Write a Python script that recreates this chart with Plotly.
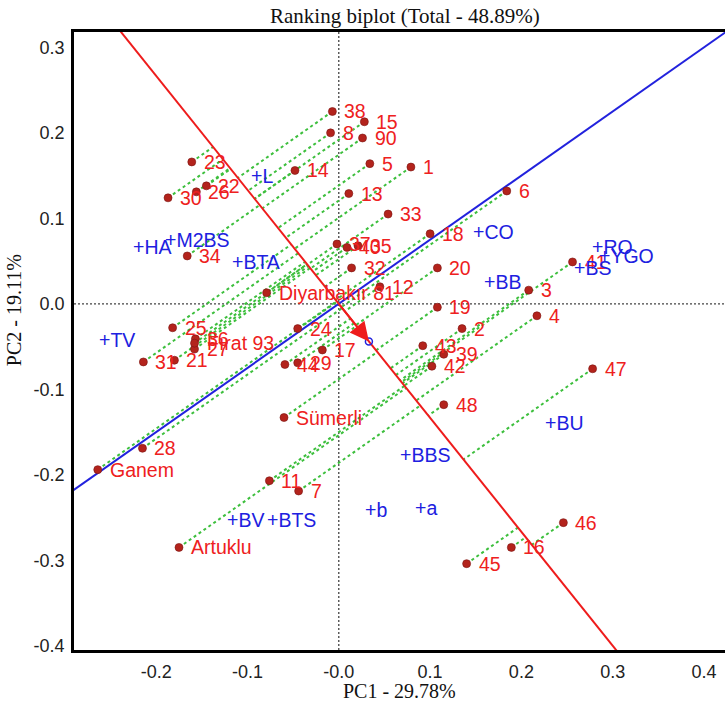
import numpy as np
import plotly.graph_objects as go

# ---- data ----
geno_names = ["1", "2", "3", "4", "5", "6", "7", "8", "90", "11", "12", "13", "14", "15",
              "16", "17", "18", "19", "20", "21", "22", "23", "24", "25", "26", "27", "28",
              "29", "30", "31", "32", "33", "34", "35", "36", "37", "38", "39", "40", "41",
              "42", "43", "44", "45", "46", "47", "48",
              "Diyarbakır 81", "Fırat 93", "Sümerli", "Ganem", "Artuklu"]
geno_x = [0.079, 0.135, 0.208, 0.217, 0.034, 0.184, -0.044, -0.009, 0.026, -0.076, 0.045,
          0.011, -0.048, 0.028, 0.189, -0.018, 0.100, 0.108, 0.108, -0.180, -0.145, -0.161,
          -0.045, -0.182, -0.156, -0.158, -0.215, -0.045, -0.187, -0.214, 0.014, 0.054,
          -0.166, 0.021, -0.157, -0.002, -0.007, 0.115, 0.009, 0.256, 0.102, 0.092, -0.059,
          0.140, 0.246, 0.278, 0.115,
          -0.079, -0.158, -0.060, -0.264, -0.175]
geno_y = [0.160, -0.029, 0.016, -0.014, 0.164, 0.132, -0.219, 0.200, 0.194, -0.207, 0.020,
          0.129, 0.156, 0.213, -0.285, -0.054, 0.082, -0.004, 0.042, -0.066, 0.138, 0.166,
          -0.029, -0.028, 0.131, -0.053, -0.169, -0.069, 0.124, -0.068, 0.042, 0.105,
          0.056, 0.068, -0.041, 0.070, 0.225, -0.059, 0.066, 0.049, -0.073, -0.049, -0.071,
          -0.304, -0.256, -0.076, -0.118,
          0.013, -0.046, -0.133, -0.194, -0.285]

env_names = ["HA", "M2BS", "L", "BTA", "CO", "BB", "RO", "YGO", "BS", "TV", "BU", "BBS",
             "b", "a", "BV", "BTS"]
env_x = [-0.220, -0.185, -0.091, -0.111, 0.152, 0.165, 0.283, 0.290, 0.263, -0.257, 0.231,
         0.072, 0.034, 0.089, -0.117, -0.073]
env_y = [0.067, 0.075, 0.149, 0.049, 0.084, 0.026, 0.067, 0.056, 0.042, -0.042, -0.139,
         -0.177, -0.241, -0.239, -0.253, -0.253]

aec_point = [0.033, -0.044]   # average environment coordinate

x_ticks = [-0.2, -0.1, 0.0, 0.1, 0.2, 0.3, 0.4]
x_tick_text = ["-0.2", "-0.1", "-0.0", "0.1", "0.2", "0.3", "0.4"]
y_ticks = [0.3, 0.2, 0.1, 0.0, -0.1, -0.2, -0.3, -0.4]
y_tick_text = ["0.3", "0.2", "0.1", "0.0", "-0.1", "-0.2", "-0.3", "-0.4"]

title_text = "Ranking biplot (Total - 48.89%)"
x_title = "PC1 - 29.78%"
y_title = "PC2 - 19.11%"

# ---- derived geometry ----
gx = np.array(geno_x)
gy = np.array(geno_y)
a = np.array(aec_point)
u = a / np.linalg.norm(a)          # AEC direction (red line)
v = np.array([-u[1], u[0]])        # perpendicular (blue line)

green_x, green_y = [], []
for px, py in zip(gx, gy):
    t = px * u[0] + py * u[1]
    green_x += [px, t * u[0], None]
    green_y += [py, t * u[1], None]

L = 2.0
fig = go.Figure()
fig.add_trace(go.Scatter(x=green_x, y=green_y, mode="lines",
                         line=dict(color="#3dbf3d", width=2, dash="dot"),
                         hoverinfo="skip", showlegend=False))
fig.add_trace(go.Scatter(x=[-L * v[0], L * v[0]], y=[-L * v[1], L * v[1]], mode="lines",
                         line=dict(color="#2222dd", width=2), showlegend=False))
fig.add_trace(go.Scatter(x=[-L * u[0], L * u[0]], y=[-L * u[1], L * u[1]], mode="lines",
                         line=dict(color="#ee1c1c", width=2), showlegend=False))
fig.add_trace(go.Scatter(x=gx, y=gy, mode="markers",
                         marker=dict(size=8, color="#b3231c",
                                     line=dict(color="#7a1410", width=0.6)),
                         showlegend=False))
fig.add_trace(go.Scatter(x=[a[0]], y=[a[1]], mode="markers",
                         marker=dict(size=7, symbol="circle-open", color="#2222dd",
                                     line=dict(width=1.5)),
                         showlegend=False))

ann = []
for name, px, py in zip(geno_names, geno_x, geno_y):
    ann.append(dict(x=px, y=py, xref="x", yref="y", text=name, showarrow=False,
                    xanchor="left", yanchor="middle", xshift=10,
                    font=dict(family="Liberation Sans, Arial", size=19.5, color="#ee2020")))
for name, px, py in zip(env_names, env_x, env_y):
    ann.append(dict(x=px, y=py, xref="x", yref="y", text="+" + name, showarrow=False,
                    xanchor="left", yanchor="middle", xshift=-7,
                    font=dict(family="Liberation Sans, Arial", size=19.5, color="#2020e0")))
# arrow along AEC
ann.append(dict(x=a[0], y=a[1], ax=0, ay=0, xref="x", yref="y", axref="x", ayref="y",
                text="", showarrow=True, arrowhead=2, arrowsize=1.9, arrowwidth=2,
                arrowcolor="#ee1c1c"))
ann.append(dict(x=0.508, y=1.026, xref="paper", yref="paper", text=title_text,
                showarrow=False, xanchor="center", yanchor="middle",
                font=dict(family="Liberation Serif, Times New Roman", size=21, color="#111")))
ann.append(dict(x=0.5, y=-0.066, xref="paper", yref="paper", text=x_title,
                showarrow=False, xanchor="center", yanchor="middle",
                font=dict(family="Liberation Serif, Times New Roman", size=20, color="#111")))
ann.append(dict(x=-0.092, y=0.55, xref="paper", yref="paper", text=y_title, textangle=-90,
                showarrow=False, xanchor="center", yanchor="middle",
                font=dict(family="Liberation Serif, Times New Roman", size=20, color="#111")))

shapes = [
    dict(type="line", xref="x", yref="paper", x0=0, x1=0, y0=0, y1=1,
         line=dict(color="#444", width=1.3, dash="2px,2px"), layer="below"),
    dict(type="line", xref="paper", yref="y", x0=0, x1=1, y0=0, y1=0,
         line=dict(color="#444", width=1.3, dash="2px,2px"), layer="below"),
]

fig.update_layout(
    width=725, height=702,
    margin=dict(l=74, r=0, t=32, b=52),
    paper_bgcolor="white", plot_bgcolor="white",
    annotations=ann, shapes=shapes, showlegend=False,
    xaxis=dict(range=[-0.290, 0.423], tickvals=x_ticks, ticktext=x_tick_text,
               showgrid=False, zeroline=False, showline=True, mirror=True,
               linecolor="black", linewidth=2.5, ticks="", ticklabelstandoff=4,
               tickfont=dict(family="Liberation Sans, Arial", size=18, color="#222")),
    yaxis=dict(range=[-0.405, 0.318], tickvals=y_ticks, ticktext=y_tick_text,
               showgrid=False, zeroline=False, showline=True, mirror=False,
               linecolor="black", linewidth=2.5, ticks="", ticklabelstandoff=3,
               tickfont=dict(family="Liberation Sans, Arial", size=18, color="#222")),
)

fig.write_html("out.html")
